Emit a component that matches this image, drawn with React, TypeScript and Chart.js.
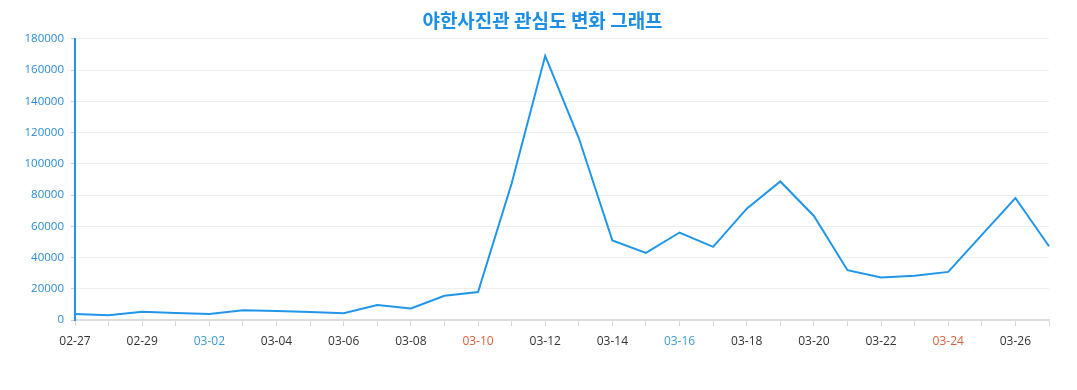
import React, { useEffect, useRef } from "react";
import { Chart, registerables } from "chart.js";

Chart.register(...registerables);

const TITLE = "야한사진관 관심도 변화 그래프";

const categories = [
  "02-27", "02-28", "02-29", "03-01", "03-02", "03-03", "03-04", "03-05", "03-06", "03-07",
  "03-08", "03-09", "03-10", "03-11", "03-12", "03-13", "03-14", "03-15", "03-16", "03-17",
  "03-18", "03-19", "03-20", "03-21", "03-22", "03-23", "03-24", "03-25", "03-26", "03-27",
];

const interest = [
  3800, 3000, 5300, 4500, 3800, 6200, 5700, 5100, 4400, 9600,
  7400, 15500, 17900, 87400, 169100, 116500, 50900, 43000, 56000, 46800,
  71300, 88700, 66600, 31900, 27200, 28300, 30800, 54500, 78100, 47200,
];

const saturdayLabels = ["03-02", "03-16"];
const sundayLabels = ["03-10", "03-24"];

const yTicks = [0, 20000, 40000, 60000, 80000, 100000, 120000, 140000, 160000, 180000];

export default function App() {
  const ref = useRef<HTMLCanvasElement | null>(null);

  useEffect(() => {
    document.body.style.margin = "0";
    if (!ref.current) return;
    const chart = new Chart(ref.current, {
      type: "line",
      data: {
        labels: categories,
        datasets: [
          {
            data: interest,
            borderColor: "#2196e8",
            borderWidth: 2,
            pointRadius: 0,
            tension: 0,
            fill: false,
          },
        ],
      },
      options: {
        animation: false,
        responsive: false,
        maintainAspectRatio: false,
        layout: { padding: { left: 8, right: 0, top: 0, bottom: 0 } },
        plugins: {
          legend: { display: false },
          tooltip: { enabled: false },
          title: {
            display: true,
            text: TITLE,
            color: "#1a8fe3",
            font: { family: "'Noto Sans CJK KR', 'Noto Sans', sans-serif", size: 19, weight: "bold" },
            padding: { top: 9, bottom: 7 },
          },
        },
        scales: {
          x: {
            type: "category",
            offset: false,
            grid: {
              display: true,
              drawOnChartArea: false,
              drawTicks: true,
              tickLength: 6,
              tickColor: "#d8d8d8",
              lineWidth: 1,
            },
            border: { display: true, color: "#dddddd", width: 2 },
            ticks: {
              autoSkip: false,
              maxRotation: 0,
              padding: 8,
              font: { family: "'Open Sans', sans-serif", size: 12 },
              color: (ctx: any) => {
                const lab = categories[ctx.index];
                if (saturdayLabels.includes(lab)) return "#3b9ad6";
                if (sundayLabels.includes(lab)) return "#d9603b";
                return "#333333";
              },
              callback: (_v: any, i: number) => (i % 2 === 0 ? categories[i] : ""),
            },
            afterFit: (scale: any) => {
              scale.height = 70;
            },
          },
          y: {
            min: 0,
            max: 180000,
            afterBuildTicks: (scale: any) => {
              scale.ticks = yTicks.map((v) => ({ value: v }));
            },
            grid: {
              color: "#eeeeee",
              tickColor: "#cccccc",
              tickLength: 4,
              lineWidth: 1,
            },
            border: { display: true, color: "#2196e8", width: 2 },
            ticks: {
              padding: 7,
              color: "#2a8ad4",
              font: { family: "'Open Sans', sans-serif", size: 11.5 },
              callback: (v: any) => String(v),
            },
            afterFit: (scale: any) => {
              scale.width = 67;
            },
          },
          y2: {
            position: "right",
            display: true,
            grid: { display: false, drawOnChartArea: false },
            border: { display: false },
            ticks: { display: false },
            afterFit: (scale: any) => {
              scale.width = 28;
            },
          },
        },
      },
    });
    return () => chart.destroy();
  }, []);

  return (
    <div style={{ width: 1077, height: 390 }}>
      <canvas ref={ref} width={1077} height={390} style={{ display: "block" }} />
    </div>
  );
}
